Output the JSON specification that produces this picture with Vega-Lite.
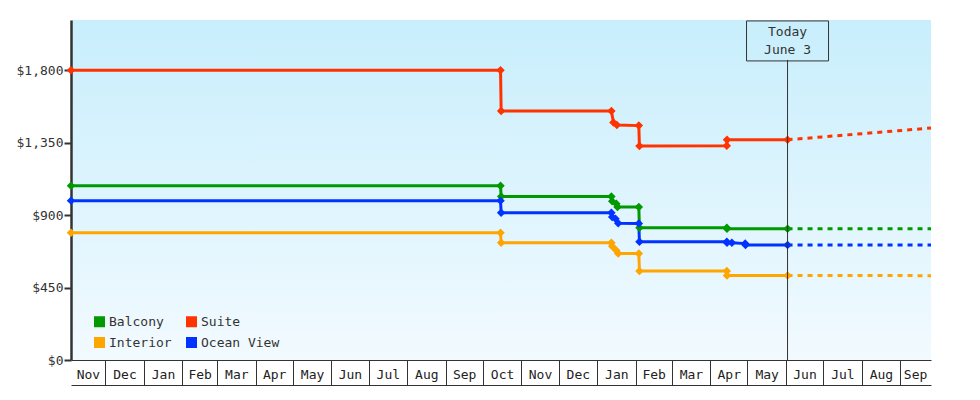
{
  "$schema": "https://vega.github.io/schema/vega-lite/v6.json",
  "width": 860,
  "height": 340,
  "padding": {"left": 16, "top": 18, "right": 49, "bottom": 15},
  "background": "white",
  "datasets": {
    "history": [
      {"cabin": "Suite", "date": "2022-11-03T10:00:00Z", "price": 1800},
      {"cabin": "Suite", "date": "2023-10-15T06:00:00Z", "price": 1800},
      {"cabin": "Suite", "date": "2023-10-15T18:00:00Z", "price": 1547},
      {"cabin": "Suite", "date": "2024-01-12T12:00:00Z", "price": 1547},
      {"cabin": "Suite", "date": "2024-01-14T04:00:00Z", "price": 1476},
      {"cabin": "Suite", "date": "2024-01-16T22:00:00Z", "price": 1460},
      {"cabin": "Suite", "date": "2024-02-03T14:00:00Z", "price": 1456},
      {"cabin": "Suite", "date": "2024-02-04T02:00:00Z", "price": 1329},
      {"cabin": "Suite", "date": "2024-04-14T10:00:00Z", "price": 1331},
      {"cabin": "Suite", "date": "2024-04-14T14:00:00Z", "price": 1368},
      {"cabin": "Suite", "date": "2024-06-02T08:00:00Z", "price": 1368},
      {"cabin": "Balcony", "date": "2022-11-03T10:00:00Z", "price": 1083},
      {"cabin": "Balcony", "date": "2023-10-15T06:00:00Z", "price": 1083},
      {"cabin": "Balcony", "date": "2023-10-15T18:00:00Z", "price": 1015},
      {"cabin": "Balcony", "date": "2024-01-12T12:00:00Z", "price": 1015},
      {"cabin": "Balcony", "date": "2024-01-13T03:00:00Z", "price": 986},
      {"cabin": "Balcony", "date": "2024-01-16T12:00:00Z", "price": 971},
      {"cabin": "Balcony", "date": "2024-01-17T10:00:00Z", "price": 951},
      {"cabin": "Balcony", "date": "2024-02-03T14:00:00Z", "price": 951},
      {"cabin": "Balcony", "date": "2024-02-04T02:00:00Z", "price": 821},
      {"cabin": "Balcony", "date": "2024-04-14T10:00:00Z", "price": 821},
      {"cabin": "Balcony", "date": "2024-04-14T14:00:00Z", "price": 815},
      {"cabin": "Balcony", "date": "2024-06-02T08:00:00Z", "price": 815},
      {"cabin": "Ocean View", "date": "2022-11-03T10:00:00Z", "price": 990},
      {"cabin": "Ocean View", "date": "2023-10-15T06:00:00Z", "price": 990},
      {"cabin": "Ocean View", "date": "2023-10-15T18:00:00Z", "price": 914},
      {"cabin": "Ocean View", "date": "2024-01-12T12:00:00Z", "price": 914},
      {"cabin": "Ocean View", "date": "2024-01-13T03:00:00Z", "price": 889},
      {"cabin": "Ocean View", "date": "2024-01-15T20:00:00Z", "price": 877},
      {"cabin": "Ocean View", "date": "2024-01-18T00:00:00Z", "price": 850},
      {"cabin": "Ocean View", "date": "2024-02-03T14:00:00Z", "price": 848},
      {"cabin": "Ocean View", "date": "2024-02-04T02:00:00Z", "price": 734},
      {"cabin": "Ocean View", "date": "2024-04-14T10:00:00Z", "price": 734},
      {"cabin": "Ocean View", "date": "2024-04-14T14:00:00Z", "price": 728},
      {"cabin": "Ocean View", "date": "2024-04-18T12:00:00Z", "price": 728},
      {"cabin": "Ocean View", "date": "2024-04-29T05:00:00Z", "price": 723},
      {"cabin": "Ocean View", "date": "2024-04-29T12:00:00Z", "price": 715},
      {"cabin": "Ocean View", "date": "2024-06-02T08:00:00Z", "price": 715},
      {"cabin": "Interior", "date": "2022-11-03T10:00:00Z", "price": 790},
      {"cabin": "Interior", "date": "2023-10-15T06:00:00Z", "price": 790},
      {"cabin": "Interior", "date": "2023-10-15T18:00:00Z", "price": 729},
      {"cabin": "Interior", "date": "2024-01-12T12:00:00Z", "price": 729},
      {"cabin": "Interior", "date": "2024-01-13T03:00:00Z", "price": 707},
      {"cabin": "Interior", "date": "2024-01-16T08:00:00Z", "price": 682},
      {"cabin": "Interior", "date": "2024-01-18T00:00:00Z", "price": 661},
      {"cabin": "Interior", "date": "2024-02-03T14:00:00Z", "price": 661},
      {"cabin": "Interior", "date": "2024-02-04T02:00:00Z", "price": 553},
      {"cabin": "Interior", "date": "2024-04-14T10:00:00Z", "price": 553},
      {"cabin": "Interior", "date": "2024-04-14T14:00:00Z", "price": 525},
      {"cabin": "Interior", "date": "2024-06-02T08:00:00Z", "price": 525}
    ],
    "projection": [
      {"cabin": "Suite", "date": "2024-06-02T08:00:00Z", "price": 1368},
      {"cabin": "Suite", "date": "2024-09-25T20:00:00Z", "price": 1441},
      {"cabin": "Balcony", "date": "2024-06-02T08:00:00Z", "price": 815},
      {"cabin": "Balcony", "date": "2024-09-25T20:00:00Z", "price": 815},
      {"cabin": "Ocean View", "date": "2024-06-02T08:00:00Z", "price": 715},
      {"cabin": "Ocean View", "date": "2024-09-25T20:00:00Z", "price": 715},
      {"cabin": "Interior", "date": "2024-06-02T08:00:00Z", "price": 525},
      {"cabin": "Interior", "date": "2024-09-25T20:00:00Z", "price": 524}
    ],
    "today": [
      {"date": "2024-06-02T08:00:00Z", "label": "Today\nJune 3", "base": 0, "top": 1864, "mid": 1982}
    ]
  },
  "resolve": {"axis": {"x": "independent"}},
  "layer": [
    {
      "data": {"name": "history"},
      "mark": {"type": "line", "strokeWidth": 3},
      "encoding": {
        "x": {
          "field": "date",
          "type": "temporal",
          "scale": {
            "type": "utc",
            "nice": false,
            "domain": [
              {"year": 2022, "month": 11, "date": 3, "hours": 10, "utc": true},
              {"year": 2024, "month": 9, "date": 25, "hours": 20, "utc": true}
            ]
          },
          "axis": {
            "orient": "bottom",
            "title": null,
            "labelExpr": "utcFormat(datum.value, '%b')",
            "ticks": false,
            "tickSize": 0,
            "grid": false,
            "domain": true,
            "domainColor": "#333",
            "domainWidth": 1,
            "labelPadding": 8,
            "labelFlush": false,
            "labelOverlap": false,
            "labelBound": false,
            "labelFont": "DejaVu Sans Mono",
            "labelFontSize": 13,
            "labelColor": "#222",
            "values": [
              {"year": 2022, "month": 11, "date": 17, "utc": true},
              {"year": 2022, "month": 12, "date": 16, "hours": 12, "utc": true},
              {"year": 2023, "month": 1, "date": 16, "hours": 12, "utc": true},
              {"year": 2023, "month": 2, "date": 15, "utc": true},
              {"year": 2023, "month": 3, "date": 16, "hours": 12, "utc": true},
              {"year": 2023, "month": 4, "date": 16, "utc": true},
              {"year": 2023, "month": 5, "date": 16, "hours": 12, "utc": true},
              {"year": 2023, "month": 6, "date": 16, "utc": true},
              {"year": 2023, "month": 7, "date": 16, "hours": 12, "utc": true},
              {"year": 2023, "month": 8, "date": 16, "hours": 12, "utc": true},
              {"year": 2023, "month": 9, "date": 16, "utc": true},
              {"year": 2023, "month": 10, "date": 16, "hours": 12, "utc": true},
              {"year": 2023, "month": 11, "date": 16, "utc": true},
              {"year": 2023, "month": 12, "date": 16, "hours": 12, "utc": true},
              {"year": 2024, "month": 1, "date": 16, "hours": 12, "utc": true},
              {"year": 2024, "month": 2, "date": 15, "hours": 12, "utc": true},
              {"year": 2024, "month": 3, "date": 16, "hours": 12, "utc": true},
              {"year": 2024, "month": 4, "date": 16, "utc": true},
              {"year": 2024, "month": 5, "date": 16, "hours": 12, "utc": true},
              {"year": 2024, "month": 6, "date": 16, "utc": true},
              {"year": 2024, "month": 7, "date": 16, "hours": 12, "utc": true},
              {"year": 2024, "month": 8, "date": 16, "hours": 12, "utc": true},
              {"year": 2024, "month": 9, "date": 13, "utc": true}
            ]
          }
        },
        "y": {
          "field": "price",
          "type": "quantitative",
          "scale": {"domain": [0, 2112], "nice": false, "zero": true},
          "axis": {
            "title": null,
            "values": [0, 450, 900, 1350, 1800],
            "labelExpr": "'$' + format(datum.value, ',d')",
            "grid": false,
            "domain": true,
            "domainColor": "#333",
            "domainWidth": 2.5,
            "ticks": true,
            "tickColor": "#333",
            "tickWidth": 2,
            "tickSize": 7,
            "labelPadding": 1,
            "labelFont": "DejaVu Sans Mono",
            "labelFontSize": 13,
            "labelColor": "#333"
          }
        },
        "color": {
          "field": "cabin",
          "type": "nominal",
          "scale": {
            "domain": ["Balcony", "Interior", "Suite", "Ocean View"],
            "range": ["#009900", "#ffa500", "#ff3300", "#0033ff"]
          },
          "legend": {
            "title": null,
            "orient": "none",
            "legendX": 22,
            "legendY": 295,
            "columns": 2,
            "padding": 0,
            "symbolType": "square",
            "symbolSize": 121,
            "symbolStrokeWidth": 0,
            "symbolOpacity": 1,
            "labelFont": "DejaVu Sans Mono",
            "labelFontSize": 13,
            "labelColor": "#333",
            "labelOffset": 3,
            "columnPadding": 13,
            "rowPadding": 7
          }
        }
      }
    },
    {
      "data": {"name": "projection"},
      "mark": {"type": "line", "strokeWidth": 3, "strokeDash": [5, 5]},
      "encoding": {
        "x": {
          "field": "date",
          "type": "temporal",
          "axis": {
            "orient": "bottom",
            "title": null,
            "offset": 25,
            "labels": false,
            "grid": false,
            "ticks": true,
            "tickSize": -25,
            "tickColor": "#333",
            "tickWidth": 1,
            "domain": true,
            "domainColor": "#333",
            "domainWidth": 1,
            "values": [
              {"year": 2022, "month": 12, "date": 1, "utc": true},
              {"year": 2023, "month": 1, "date": 1, "utc": true},
              {"year": 2023, "month": 2, "date": 1, "utc": true},
              {"year": 2023, "month": 3, "date": 1, "utc": true},
              {"year": 2023, "month": 4, "date": 1, "utc": true},
              {"year": 2023, "month": 5, "date": 1, "utc": true},
              {"year": 2023, "month": 6, "date": 1, "utc": true},
              {"year": 2023, "month": 7, "date": 1, "utc": true},
              {"year": 2023, "month": 8, "date": 1, "utc": true},
              {"year": 2023, "month": 9, "date": 1, "utc": true},
              {"year": 2023, "month": 10, "date": 1, "utc": true},
              {"year": 2023, "month": 11, "date": 1, "utc": true},
              {"year": 2023, "month": 12, "date": 1, "utc": true},
              {"year": 2024, "month": 1, "date": 1, "utc": true},
              {"year": 2024, "month": 2, "date": 1, "utc": true},
              {"year": 2024, "month": 3, "date": 1, "utc": true},
              {"year": 2024, "month": 4, "date": 1, "utc": true},
              {"year": 2024, "month": 5, "date": 1, "utc": true},
              {"year": 2024, "month": 6, "date": 1, "utc": true},
              {"year": 2024, "month": 7, "date": 1, "utc": true},
              {"year": 2024, "month": 8, "date": 1, "utc": true},
              {"year": 2024, "month": 9, "date": 1, "utc": true}
            ]
          }
        },
        "y": {"field": "price", "type": "quantitative"},
        "color": {"field": "cabin", "type": "nominal", "legend": null}
      }
    },
    {
      "data": {"name": "history"},
      "mark": {"type": "point", "shape": "diamond", "filled": true, "size": 72, "opacity": 1},
      "encoding": {
        "x": {"field": "date", "type": "temporal", "axis": null},
        "y": {"field": "price", "type": "quantitative"},
        "color": {"field": "cabin", "type": "nominal", "legend": null}
      }
    },
    {
      "data": {"name": "today"},
      "mark": {"type": "rule", "color": "#333", "strokeWidth": 1},
      "encoding": {
        "x": {"field": "date", "type": "temporal", "axis": null},
        "y": {"field": "base", "type": "quantitative"},
        "y2": {"field": "top"}
      }
    },
    {
      "data": {"name": "today"},
      "mark": {"type": "point", "shape": "M-1,-0.4878H1V0.4878H-1Z", "size": 6724, "filled": false, "stroke": "#333", "strokeWidth": 1, "opacity": 1},
      "encoding": {
        "x": {"field": "date", "type": "temporal", "axis": null},
        "y": {"field": "mid", "type": "quantitative"}
      }
    },
    {
      "data": {"name": "today"},
      "mark": {"type": "text", "font": "DejaVu Sans Mono", "fontSize": 13, "color": "#333", "lineBreak": "\n", "lineHeight": 18, "align": "center", "baseline": "middle", "dy": -9},
      "encoding": {
        "x": {"field": "date", "type": "temporal", "axis": null},
        "y": {"field": "mid", "type": "quantitative"},
        "text": {"field": "label", "type": "nominal"}
      }
    }
  ],
  "config": {
    "font": "DejaVu Sans Mono",
    "view": {
      "stroke": null,
      "fill": {
        "gradient": "linear",
        "x1": 0, "y1": 0, "x2": 0, "y2": 1,
        "stops": [
          {"offset": 0, "color": "#c8eefc"},
          {"offset": 1, "color": "#f2faff"}
        ]
      }
    }
  }
}
